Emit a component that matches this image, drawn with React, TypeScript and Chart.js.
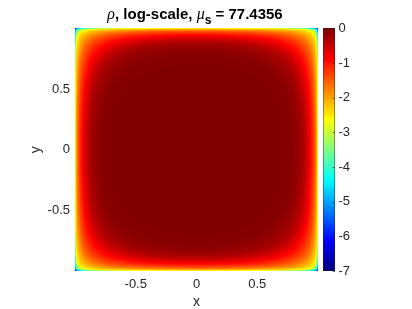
import React, { useEffect, useRef } from "react";
import { Chart, registerables } from "chart.js";

Chart.register(...registerables);

// ---- data ----
const xTicks = [-0.5, 0, 0.5];
const yTicks = [-0.5, 0, 0.5];
const colorTicks = [0, -1, -2, -3, -4, -5, -6, -7];
const colorMin = -7;
const colorMax = 0;
// log10 of the bubble coordinate u = (1-x^2)(1-y^2) and the log-density read at it
// (corner, edges near corner, and along the mid lines of the picture)
const profileLog10U = [-4.3, -3.4, -3.0, -2.65, -2.1, -1.62, -1.4, -1.23, -1.056, -0.934, -0.814, -0.721, -0.614, -0.507, -0.407, -0.292, -0.194, -0.098, 0];
const profileLogRho = [-6.0, -4.9, -4.1, -3.4, -2.5, -2.0, -1.68, -1.42, -1.13, -0.9, -0.66, -0.46, -0.27, -0.14, -0.065, -0.025, -0.01, -0.003, 0];
const muS = "77.4356";
const gridCells = 243;

const TEXT = "#262626";
const SANS = "'Liberation Sans', Arial, Helvetica, sans-serif";
const SERIF = "'Liberation Serif', 'DejaVu Serif', serif";

function logRhoAt(u: number): number {
  const l = Math.log10(Math.max(u, 1e-12));
  const xs = profileLog10U, ys = profileLogRho;
  if (l <= xs[0]) return ys[0];
  for (let i = 1; i < xs.length; i++) {
    if (l <= xs[i]) {
      const f = (l - xs[i - 1]) / (xs[i] - xs[i - 1]);
      return ys[i - 1] + f * (ys[i] - ys[i - 1]);
    }
  }
  return ys[ys.length - 1];
}

const clamp = (v: number) => Math.max(0, Math.min(1, v));
const JET: string[] = [];
for (let k = 0; k < 256; k++) {
  const t = k / 255;
  const r = clamp(Math.min(4 * t - 1.5, -4 * t + 4.5));
  const g = clamp(Math.min(4 * t - 0.5, -4 * t + 3.5));
  const b = clamp(Math.min(4 * t + 0.5, -4 * t + 2.5));
  JET.push(`rgb(${Math.round(r * 255)},${Math.round(g * 255)},${Math.round(b * 255)})`);
}
function jetIndex(v: number): number {
  const t = (v - colorMin) / (colorMax - colorMin);
  return Math.max(0, Math.min(255, Math.floor(t * 256)));
}

const heatmapPlugin = {
  id: "heatmap",
  beforeDatasetsDraw(chart: any) {
    const { ctx, scales } = chart;
    const xs = scales.x, ys = scales.y;
    const n = gridCells;
    const colPix: number[] = [], rowPix: number[] = [], colW: number[] = [], rowW: number[] = [];
    for (let i = 0; i <= n; i++) {
      const u = -1 + (2 * i) / n;
      colPix.push(Math.round(xs.getPixelForValue(u)));
      rowPix.push(Math.round(ys.getPixelForValue(u)));
    }
    for (let i = 0; i < n; i++) {
      const c = -1 + (2 * i + 1) / n;
      colW.push(1 - c * c);
      rowW.push(1 - c * c);
    }
    ctx.save();
    for (let j = 0; j < n; j++) {
      const y0 = rowPix[j + 1], y1 = rowPix[j];
      for (let i = 0; i < n; i++) {
        const v = logRhoAt(colW[i] * rowW[j]);
        ctx.fillStyle = JET[jetIndex(v)];
        ctx.fillRect(colPix[i], y0, colPix[i + 1] - colPix[i], y1 - y0);
      }
    }
    ctx.restore();
  },
  afterDraw(chart: any) {
    const { ctx, chartArea, scales } = chart;
    const cb = scales.cb;
    const left = chartArea.right + 5;
    const w = 12;
    ctx.save();
    for (let k = 0; k < 256; k++) {
      const v0 = colorMin + (k * (colorMax - colorMin)) / 256;
      const v1 = colorMin + ((k + 1) * (colorMax - colorMin)) / 256;
      const ya = Math.round(cb.getPixelForValue(v1));
      const yb = Math.round(cb.getPixelForValue(v0));
      ctx.fillStyle = JET[k];
      ctx.fillRect(left, ya, w, yb - ya);
    }
    const top = cb.getPixelForValue(colorMax), bottom = cb.getPixelForValue(colorMin);
    ctx.strokeStyle = "rgba(38,38,38,0.45)";
    ctx.lineWidth = 1;
    ctx.strokeRect(left + 0.5, top + 0.5, w - 1, bottom - top - 1);
    ctx.strokeStyle = TEXT;
    ctx.lineWidth = 0.6;
    for (const t of colorTicks) {
      const y = Math.round(cb.getPixelForValue(t)) + 0.5;
      ctx.beginPath();
      ctx.moveTo(left + w - 2.5, y);
      ctx.lineTo(left + w, y);
      ctx.stroke();
    }

    // axis titles
    ctx.fillStyle = TEXT;
    ctx.font = `14px ${SANS}`;
    ctx.textAlign = "center";
    ctx.textBaseline = "alphabetic";
    ctx.fillText("x", (chartArea.left + chartArea.right) / 2, 306);
    ctx.save();
    ctx.translate(39.5, (chartArea.top + chartArea.bottom) / 2);
    ctx.rotate(-Math.PI / 2);
    ctx.fillText("y", 0, 0);
    ctx.restore();

    // title with TeX-like parts
    const parts = [
      { text: "\u03C1", font: `italic 16px ${SERIF}`, dy: 0 },
      { text: ", log-scale, ", font: `bold 15px ${SANS}`, dy: 0 },
      { text: "\u03BC", font: `italic 16px ${SERIF}`, dy: 0 },
      { text: "s", font: `bold 12px ${SANS}`, dy: 5 },
      { text: " = " + muS, font: `bold 15px ${SANS}`, dy: 0 },
    ];
    let total = 0;
    const widths: number[] = [];
    for (const p of parts) {
      ctx.font = p.font;
      const wd = ctx.measureText(p.text).width;
      widths.push(wd);
      total += wd;
    }
    let x = (chartArea.left + chartArea.right) / 2 - 1.5 - total / 2;
    ctx.fillStyle = "#000";
    ctx.textAlign = "left";
    parts.forEach((p, i) => {
      ctx.font = p.font;
      ctx.fillText(p.text, x, 18.5 + p.dy);
      x += widths[i];
    });
    ctx.restore();
  },
};

export default function App() {
  const ref = useRef<HTMLCanvasElement | null>(null);
  useEffect(() => {
    if (!ref.current) return;
    const tickFont = { family: SANS, size: 13 };
    const chart = new Chart(ref.current, {
      type: "scatter",
      data: { datasets: [{ data: [], pointRadius: 0 }] },
      options: {
        animation: false,
        responsive: false,
        devicePixelRatio: 1,
        layout: { padding: { top: 28, left: 0, right: 0, bottom: 0 } },
        plugins: { legend: { display: false }, tooltip: { enabled: false }, title: { display: false } },
        scales: {
          x: {
            type: "linear",
            min: -1,
            max: 1,
            grid: { display: false, drawTicks: false },
            border: { display: false },
            afterBuildTicks: (s: any) => { s.ticks = xTicks.map((v) => ({ value: v })); },
            afterFit: (s: any) => { s.height = 38; },
            ticks: { font: tickFont, color: TEXT, padding: 6, maxRotation: 0 },
          },
          y: {
            type: "linear",
            position: "left",
            min: -1,
            max: 1,
            grid: { display: false, drawTicks: false },
            border: { display: false },
            afterBuildTicks: (s: any) => { s.ticks = yTicks.map((v) => ({ value: v })); },
            afterFit: (s: any) => { s.width = 75; },
            ticks: { font: tickFont, color: TEXT, padding: 5 },
          },
          cb: {
            type: "linear",
            position: "right",
            min: colorMin,
            max: colorMax,
            grid: { display: false, drawTicks: false },
            border: { display: false },
            afterBuildTicks: (s: any) => { s.ticks = colorTicks.map((v) => ({ value: v })); },
            afterFit: (s: any) => { s.width = 94; },
            ticks: { font: tickFont, color: TEXT, padding: 20.5 },
          },
        },
      } as any,
      plugins: [heatmapPlugin],
    });
    return () => chart.destroy();
  }, []);
  return (
    <div style={{ position: "fixed", left: 0, top: 0, width: 412, height: 309, background: "#fff" }}>
      <canvas ref={ref} width={412} height={309} style={{ width: 412, height: 309, display: "block" }} />
    </div>
  );
}
